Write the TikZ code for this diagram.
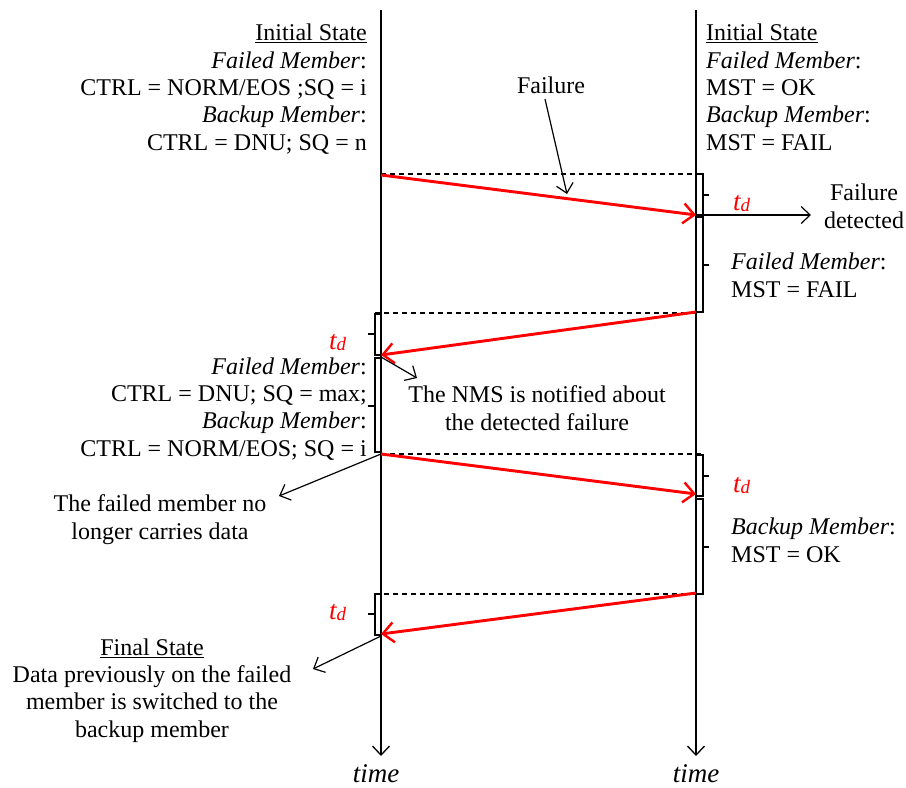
\documentclass[tikz,border=0pt]{standalone}
\usepackage{fontspec}
\setmainfont{Liberation Serif}
\usetikzlibrary{arrows.meta}
\begin{document}
\begin{tikzpicture}[x=1pt,y=-1pt,
  txt/.style={inner sep=0pt, font=\fontsize{24}{27.3}\selectfont},
  timelab/.style={inner sep=0pt, font=\fontsize{27}{27}\selectfont\itshape},
  timeline/.style={line width=1.6pt, -{Straight Barb[length=9pt,width=17pt,line width=1.3pt]}},
  msg/.style={red, line width=2.9pt, -{Straight Barb[length=11pt,width=20pt,line width=2.4pt]}},
  note/.style={line width=1.2pt, -{Straight Barb[length=9pt,width=17pt,line width=1.2pt]}},
  dashline/.style={dash pattern=on 5pt off 4pt, line width=1.3pt},
  bracket/.style={line width=1.4pt},
  tdlab/.style={inner sep=0pt, red, font=\fontsize{27}{27}\selectfont\itshape}]
\useasboundingbox (0,0) rectangle (906,788);

% time lines
\coordinate (Ltop) at (381,10);
\coordinate (Lbot) at (381,756);
\coordinate (Rtop) at (696,10);
\coordinate (Rbot) at (696,756);
\draw[timeline] (Ltop) -- (Lbot);
\draw[timeline] (Rtop) -- (Rbot);
\node[timelab, anchor=base] (timeL) at (376,782) {time};
\node[timelab, anchor=base] (timeR) at (696,782) {time};

% event points
\coordinate (L1) at (381,175);
\coordinate (R1) at (696,215);
\coordinate (R2) at (696,312);
\coordinate (L2) at (381,355);
\coordinate (L3) at (381,454);
\coordinate (R3) at (696,494);
\coordinate (R4) at (696,593);
\coordinate (L4) at (381,634);

% dashed guides
\draw[dashline] (381,174) -- (703,174);
\draw[dashline] (375,313) -- (696,313);
\draw[dashline] (381,454) -- (703,454);
\draw[dashline] (375,594) -- (696,594);

% brackets right
\draw[bracket] (696,174) -- (703,174) -- (703,215) -- (696,215);
\draw[bracket] (703,195) -- (709,195);
\draw[bracket] (696,217) -- (703,217) -- (703,312) -- (696,312);
\draw[bracket] (703,265) -- (709,265);
\draw[bracket] (696,455) -- (703,455) -- (703,496) -- (696,496);
\draw[bracket] (703,476) -- (709,476);
\draw[bracket] (696,499) -- (703,499) -- (703,594) -- (696,594);
\draw[bracket] (703,547) -- (709,547);
% brackets left
\draw[bracket] (381,314) -- (375,314) -- (375,355) -- (381,355);
\draw[bracket] (375,334) -- (368,334);
\draw[bracket] (381,358) -- (375,358) -- (375,452) -- (381,452);
\draw[bracket] (375,406) -- (368,406);
\draw[bracket] (381,594) -- (375,594) -- (375,635) -- (381,635);
\draw[bracket] (375,614) -- (368,614);

% red messages
\draw[msg] (L1) -- (R1);
\draw[msg] (R2) -- (L2);
\draw[msg] (L3) -- (R3);
\draw[msg] (R4) -- (L4);

% texts (anchors at the baseline of the last line)
\node[txt, align=right, anchor=base east] (leftInit) at (367,150)
  {\underline{Initial State}\\ \textit{Failed Member}:\\ CTRL = NORM/EOS ;SQ = i\\ \textit{Backup Member}:\\ CTRL = DNU; SQ = n};
\node[txt, align=left, anchor=base west] (rightInit) at (706,150)
  {\underline{Initial State}\\ \textit{Failed Member}:\\ MST = OK\\ \textit{Backup Member}:\\ MST = FAIL};
\node[txt, anchor=base] (failure) at (551,93) {Failure};
\node[txt, align=center, anchor=base] (failDet) at (864,228) {Failure\\detected};
\node[txt, align=left, anchor=base west] (rightFail) at (731,297)
  {\textit{Failed Member}:\\ MST = FAIL};
\node[txt, align=right, anchor=base east] (leftMid) at (367,456)
  {\textit{Failed Member}:\\ CTRL = DNU; SQ = max;\\ \textit{Backup Member}:\\ CTRL = NORM/EOS; SQ = i};
\node[txt, align=center, anchor=base] (nms) at (537,430)
  {The NMS is notified about\\ the detected failure};
\node[txt, align=center, anchor=base] (noLonger) at (160,539)
  {The failed member no\\ longer carries data};
\node[txt, align=left, anchor=base west] (rightBackup) at (731,562)
  {\textit{Backup Member}:\\ MST = OK};
\node[txt, align=center, anchor=base] (final) at (152,737)
  {\underline{Final State}\\ Data previously on the failed\\ member is switched to the\\ backup member};

% t_d labels
\node[tdlab, anchor=base west] (td1) at (733,210) {t\raisebox{-1pt}{\fontsize{19}{19}\selectfont d}};
\node[tdlab, anchor=base west] (td2) at (329,349) {t\raisebox{-1pt}{\fontsize{19}{19}\selectfont d}};
\node[tdlab, anchor=base west] (td3) at (733,492) {t\raisebox{-1pt}{\fontsize{19}{19}\selectfont d}};
\node[tdlab, anchor=base west] (td4) at (329,619) {t\raisebox{-1pt}{\fontsize{19}{19}\selectfont d}};

% annotation arrows
\coordinate (failTail) at (545,99);
\coordinate (failTip) at (567,194);
\draw[note] (failTail) -- (failTip);
\coordinate (detTip) at (811,215);
\draw[note] (R1) -- (detTip);
\coordinate (nmsTail) at (381,357);
\coordinate (nmsTip) at (417,378);
\draw[note] (nmsTail) -- (nmsTip);
\coordinate (noTip) at (279,496);
\draw[note] (L3) -- (noTip);
\coordinate (finTail) at (381,636);
\coordinate (finTip) at (313,669);
\draw[note] (finTail) -- (finTip);
\end{tikzpicture}
\end{document}
